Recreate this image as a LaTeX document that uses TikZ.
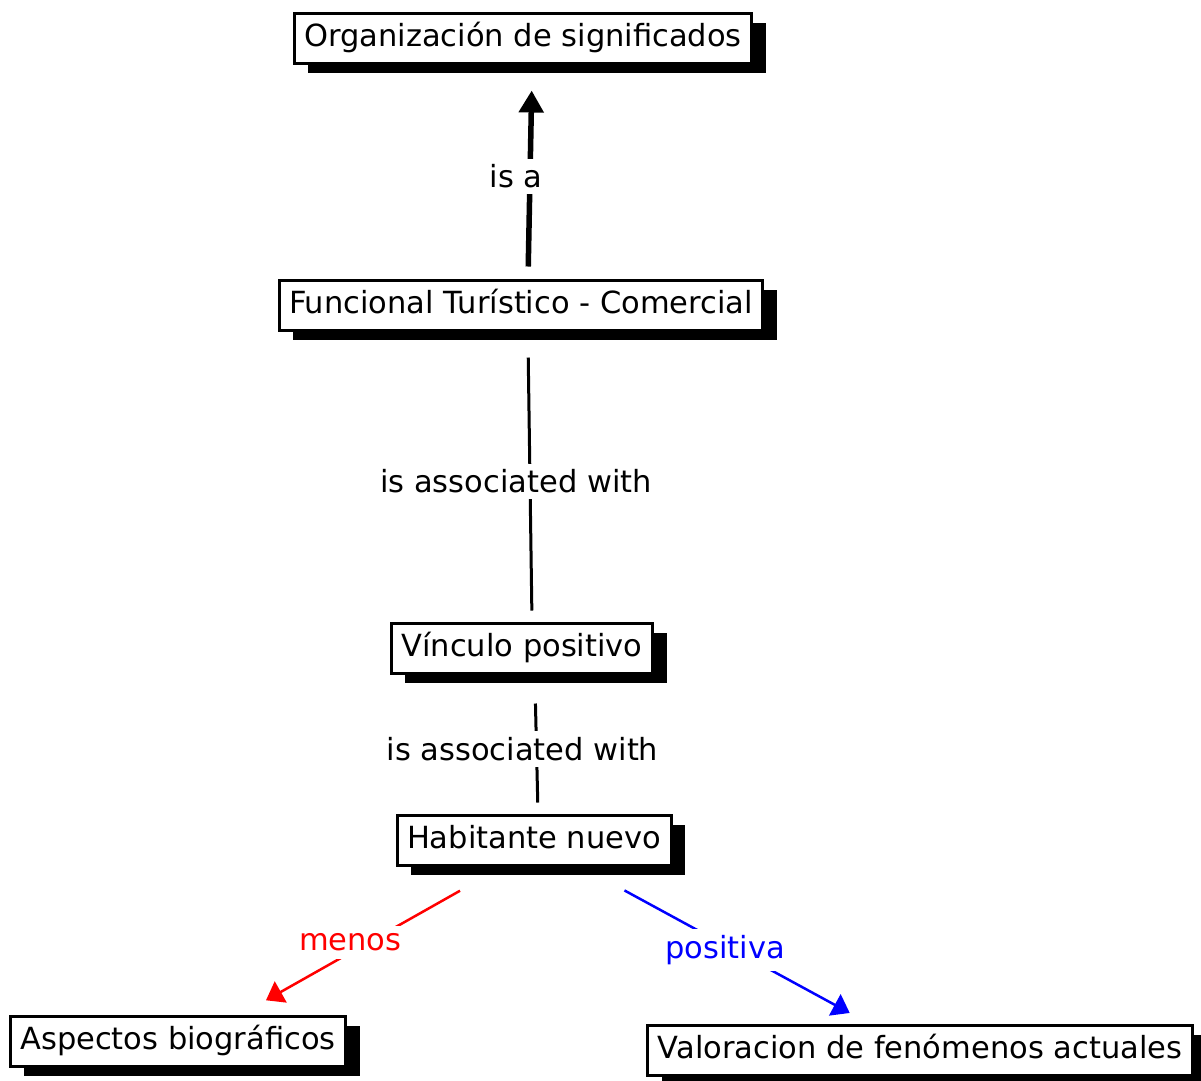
\documentclass[tikz,border=0pt]{standalone}
\usepackage{fontspec}
\setmainfont{DejaVu Sans}
\usetikzlibrary{arrows.meta,shadows}

\begin{document}
\begin{tikzpicture}[x=1pt, y=-1pt,
  concept/.style={draw=black, line width=3pt, fill=white, inner xsep=10pt, inner ysep=10pt,
    text height=23pt, text depth=7pt, font=\fontsize{30.5}{36}\selectfont,
    drop shadow={shadow xshift=14pt, shadow yshift=-10pt, fill=black, opacity=1}},
  linklabel/.style={fill=white, inner sep=6pt, font=\fontsize{30.5}{36}\selectfont}]
\useasboundingbox (0,0) rectangle (1201,1080);

\node[concept] (organizacion) at (523,38) {Organización de significados};
\node[concept] (funcional) at (521,305) {Funcional Turístico - Comercial};
\node[concept] (vinculo) at (522,648) {Vínculo positivo};
\node[concept] (habitante) at (534,840) {Habitante nuevo};
\node[concept] (aspectos) at (178,1041) {Aspectos biográficos};
\node[concept] (valoracion) at (920,1050) {Valoracion de fenómenos actuales};

\draw[-{Triangle[length=22pt,width=24pt]}, line width=5.5pt, shorten <=12pt, shorten >=16pt]
  ([shift={(7,0)}]funcional.north) -- ([shift={(9,10)}]organizacion.south)
  node[linklabel, midway, xshift=-14pt] {is a};
\draw[line width=3pt, shorten <=16pt, shorten >=11pt]
  ([shift={(7,10)}]funcional.south) -- ([shift={(10,0)}]vinculo.north)
  node[linklabel, midway, xshift=-14pt] {is associated with};
\draw[line width=3pt, shorten <=19pt, shorten >=11pt]
  ([shift={(13,10)}]vinculo.south) -- ([shift={(4,0)}]habitante.north)
  node[linklabel, midway, xshift=-14pt] {is associated with};
% enlaces de colores
\draw[red, -{Triangle[length=17pt,width=24pt]}, line width=2.5pt, shorten <=93pt, shorten >=93pt]
  ([shift={(7,5)}]habitante.center) -- ([shift={(7,5)}]aspectos.center)
  node[linklabel, pos=0.485, xshift=-18pt, inner sep=8pt] {menos};
\draw[blue, -{Triangle[length=17pt,width=24pt]}, line width=2.5pt, shorten <=95pt, shorten >=88pt]
  ([shift={(7,5)}]habitante.center) -- ([shift={(7,5)}]valoracion.center)
  node[linklabel, pos=0.5, xshift=-9pt] {positiva};

\end{tikzpicture}
\end{document}
